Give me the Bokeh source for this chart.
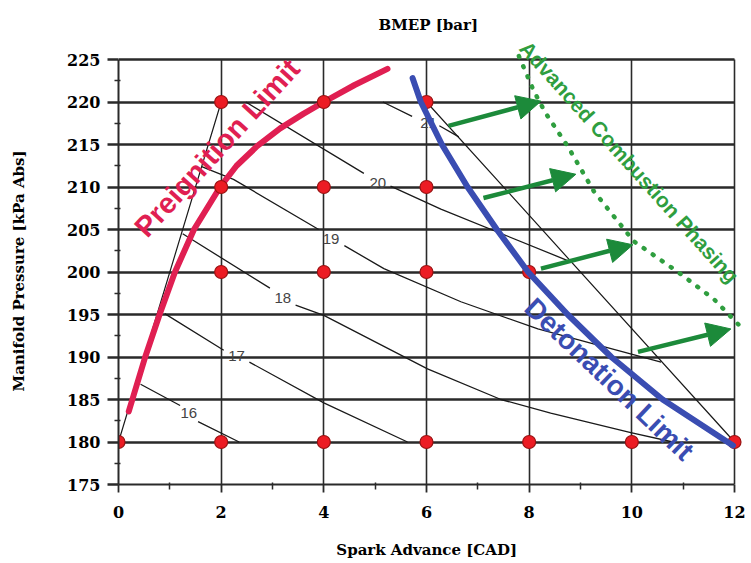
import math
from bokeh.plotting import figure
from bokeh.models import Range1d, FixedTicker, Label, Arrow, NormalHead, ColumnDataSource
from bokeh.core.properties import value
from bokeh.embed import file_html
from bokeh.resources import INLINE

nan = float("nan")
NBSP = "\u00a0"

# ---- axes / ticks ----
x_ticks = [0, 2, 4, 6, 8, 10, 12]
x_minor = [1, 3, 5, 7, 9, 11]
y_ticks = [175, 180, 185, 190, 195, 200, 205, 210, 215, 220, 225]
y_minor = [177.5, 182.5, 187.5, 192.5, 197.5, 202.5, 207.5, 212.5, 217.5, 222.5]

# ---- test points (spark advance, manifold pressure) ----
pt_x = [0, 2, 2, 2, 2, 4, 4, 4, 4, 6, 6, 6, 6, 8, 8, 10, 12]
pt_y = [180, 220, 210, 200, 180, 220, 210, 200, 180, 220, 210, 200, 180, 200, 180, 180, 180]

# ---- data hull edges ----
hull_x = [0, 2, nan, 6, 12]
hull_y = [180, 220, nan, 220, 180]

# ---- BMEP iso-lines (gaps where labels sit) ----
c16_x = [0.43, 1.2, nan, 1.55, 2.35]
c16_y = [186.8, 184.3, nan, 182.4, 180.0]
c17_x = [0.9, 2.05, nan, 2.55, 4.0, 5.63]
c17_y = [195.1, 190.8, nan, 189.4, 184.6, 180.0]
c18_x = [1.25, 2.95, nan, 3.45, 4.0, 6.02, 7.45, 8.42, 9.98, 10.8]
c18_y = [204.5, 198.1, nan, 196.1, 194.9, 188.6, 185.0, 183.4, 181.1, 180.0]
c19_x = [1.62, 2.24, 3.9, nan, 4.4, 5.17, 6.67, 8.17, 10.57]
c19_y = [212.4, 210.9, 205.0, nan, 203.1, 200.4, 196.5, 193.3, 189.4]
c20_x = [2.48, 4.78, nan, 5.3, 6.28, 8.81]
c20_y = [220.0, 211.6, nan, 210.1, 207.4, 201.2]
c21_x = [5.15, 5.72, nan, 6.25, 6.63]
c21_y = [220.0, 218.3, nan, 217.2, 215.9]

lab_txt = ["16", "17", "18", "19", "20", "21"]
lab_x = [1.37, 2.3, 3.2, 4.14, 5.05, 6.04]
lab_y = [183.4, 190.1, 197.0, 203.9, 210.5, 217.5]

# ---- limits ----
pre_x = [0.2, 0.27, 0.52, 0.8, 1.1, 1.47, 1.98, 2.3, 2.7, 3.15, 3.6, 4.0, 4.6, 5.24]
pre_y = [183.6, 185, 190, 195, 200, 205, 210, 212.5, 214.8, 216.9, 218.6, 220.0, 222.0, 223.9]
det_x = [5.73, 5.89, 6.3, 6.8, 7.37, 7.98, 8.75, 9.6, 10.6, 11.97]
det_y = [222.8, 220, 215, 210, 205, 200, 195, 190, 185, 179.6]
adv_x = [7.8, 8.09, 8.32, 8.75, 9.26, 10.04, 10.9, 11.6, 12.16]
adv_y = [225.4, 221.3, 218.7, 214.8, 209.5, 203.6, 200.0, 196.8, 193.3]

# ---- arrows ----
arr_x0 = [6.43, 7.11, 8.23, 10.12]
arr_y0 = [217.2, 208.7, 200.4, 190.6]
arr_x1 = [8.23, 8.91, 10.02, 11.93]
arr_y1 = [220.1, 211.5, 203.2, 193.3]

GRID = "#2a2a2a"
RED = "#e01f52"
BLUE = "#3a4db2"
GREEN = "#2f9e3f"
DGREEN = "#1c8a3a"
SERIF = "DejaVu Serif"

X0, X1 = 0, 12
Y0, Y1 = 175, 225

p = figure(width=751, height=563, x_range=Range1d(0, 12.312), y_range=Range1d(175, 227.706),
           output_backend="svg", toolbar_location=None, title="BMEP [bar]",
           min_border_left=118, min_border_right=1, min_border_top=36, min_border_bottom=79)
p.background_fill_color = "white"
p.border_fill_color = "white"
p.outline_line_color = None

p.title.align = "left"
p.title.offset = 260
p.title.standoff = 5
p.title.text_font = SERIF
p.title.text_font_size = "15px"
p.title.text_font_style = "bold"
p.title.text_color = "black"

xt = FixedTicker(ticks=x_ticks, minor_ticks=x_minor)
yt = FixedTicker(ticks=y_ticks, minor_ticks=y_minor)
p.xaxis.ticker = xt
p.yaxis.ticker = yt
p.xaxis.bounds = (X0, X1)
p.yaxis.bounds = (Y0, Y1)
p.xgrid.ticker = xt
p.ygrid.ticker = yt
p.xgrid.bounds = (X0, X1)
p.ygrid.bounds = (Y0, Y1)
p.xgrid.cross_bounds = (Y0, Y1)
p.ygrid.cross_bounds = (X0, X1)
p.xgrid.grid_line_color = GRID
p.xgrid.grid_line_width = 1.6
p.ygrid.grid_line_color = GRID
p.ygrid.grid_line_width = 2.4

for ax in (p.xaxis[0], p.yaxis[0]):
    ax.axis_line_color = GRID
    ax.axis_line_width = 2
    ax.major_tick_line_color = GRID
    ax.minor_tick_line_color = GRID
    ax.major_tick_in = 0
    ax.minor_tick_in = 2
    ax.major_label_text_font = SERIF
    ax.major_label_text_font_style = "bold"
    ax.major_label_text_font_size = "16px"
    ax.major_label_text_color = "black"
    ax.axis_label_text_font = SERIF
    ax.axis_label_text_font_style = "bold"
    ax.axis_label_text_font_size = "15px"
    ax.axis_label_text_color = "black"

# trailing no-break spaces re-centre the labels on the 0-12 / 175-225 part of the frame
p.xaxis.axis_label = "Spark Advance [CAD]" + NBSP * 3
p.xaxis.major_tick_out = 8
p.xaxis.minor_tick_out = 5
p.xaxis.major_tick_line_width = 1.8
p.xaxis.minor_tick_line_width = 1.5
p.xaxis.major_label_standoff = 13
p.xaxis.axis_label_standoff = 20

p.yaxis.axis_label = "Manifold Pressure [kPa Abs]" + NBSP * 4
p.yaxis.major_tick_out = 11
p.yaxis.minor_tick_out = 4
p.yaxis.major_tick_line_width = 2.4
p.yaxis.minor_tick_line_width = 1.5
p.yaxis.major_label_standoff = 7
p.yaxis.axis_label_standoff = 36

# iso-lines and hull
p.line(hull_x, hull_y, line_color="#1a1a1a", line_width=1.2)
for cx, cy in [(c16_x, c16_y), (c17_x, c17_y), (c18_x, c18_y),
               (c19_x, c19_y), (c20_x, c20_y), (c21_x, c21_y)]:
    p.line(cx, cy, line_color="#1a1a1a", line_width=1.3)
p.text(x=lab_x, y=lab_y, text=lab_txt, text_font=value("Liberation Sans"),
       text_font_size="15px", text_color="#444444", text_align="center",
       text_baseline="middle")

# limits
p.line(pre_x, pre_y, line_color=RED, line_width=6, line_cap="round", line_join="round")
p.scatter(pt_x, pt_y, size=13, fill_color="#ec1c24", line_color="#9a1212", line_width=1.2)
p.line(det_x, det_y, line_color=BLUE, line_width=6, line_cap="round", line_join="round")
p.line(adv_x, adv_y, line_color=GREEN, line_width=4.5, line_dash="1 10", line_cap="round")

src = ColumnDataSource(dict(x0=arr_x0, y0=arr_y0, x1=arr_x1, y1=arr_y1))
p.add_layout(Arrow(end=NormalHead(size=24, fill_color=DGREEN, line_color=DGREEN),
                   x_start="x0", y_start="y0", x_end="x1", y_end="y1", source=src,
                   line_color=DGREEN, line_width=4.5))

p.add_layout(Label(x=1.92, y=214.6, text="Preignition Limit", angle=0.83,
                   text_align="center", text_baseline="middle",
                   text_font="Liberation Sans", text_font_style="bold",
                   text_font_size="29px", text_color=RED))
p.add_layout(Label(x=9.56, y=187.4, text="Detonation Limit", angle=-0.76,
                   text_align="center", text_baseline="middle",
                   text_font="Liberation Sans", text_font_style="bold",
                   text_font_size="28px", text_color=BLUE))
p.add_layout(Label(x=9.951, y=212.95, text="Advanced Combustion Phasing", angle=-0.84,
                   text_align="center", text_baseline="middle",
                   text_font="Liberation Sans", text_font_style="bold",
                   text_font_size="21px", text_color=GREEN))

open("out.html", "w").write(file_html(p, INLINE))
